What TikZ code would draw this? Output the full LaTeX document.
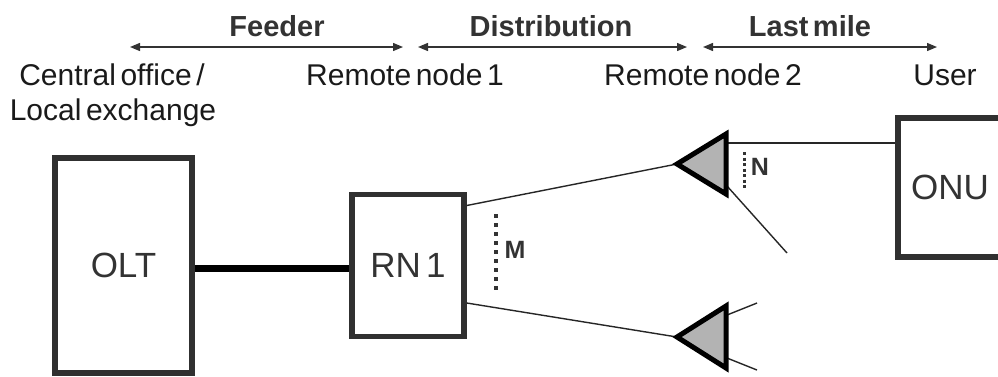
\documentclass[tikz,border=0pt]{standalone}
\usepackage{fontspec}
\setmainfont{Liberation Sans}[WordSpace=0.55]
\usetikzlibrary{arrows.meta}
\definecolor{boxgray}{HTML}{303030}
\definecolor{trifill}{HTML}{B3B3B3}
\definecolor{txt}{HTML}{1A1A1A}
\definecolor{headtxt}{HTML}{333333}
\begin{document}
\begin{tikzpicture}[x=1pt,y=-1pt,
  box/.style={draw=boxgray, line width=5.5pt, fill=white, inner sep=0pt,
    font=\fontsize{35}{40}\selectfont, text=headtxt},
  tri/.style={draw=black, line width=5pt, fill=trifill, line join=miter},
  thinline/.style={line width=1.4pt, draw=black!85},
  span/.style={line width=1.3pt, draw=black!80,
    {Triangle[length=10pt,width=8pt]}-{Triangle[length=10pt,width=8pt]}},
  lbl/.style={font=\fontsize{30}{34}\selectfont, text=txt, inner sep=0pt, anchor=base},
  head/.style={font=\fontsize{29}{32}\selectfont\bfseries, text=headtxt, inner sep=0pt, anchor=base},
  ratiolbl/.style={font=\fontsize{25}{27}\selectfont\bfseries, text=headtxt, inner sep=0pt},
  dotsM/.style={line width=4pt, draw=black!80, dash pattern=on 4pt off 5pt},
  dotsN/.style={line width=3pt, draw=black!80, dash pattern=on 3pt off 2.5pt}]
\clip (0,0) rectangle (998,376);
\fill[white] (0,0) rectangle (998,376);

% span arrows
\coordinate (fa) at (130,47); \coordinate (fb) at (403,47);
\coordinate (da) at (418,47); \coordinate (db) at (687,47);
\coordinate (la) at (703,47); \coordinate (lb) at (937,47);
\draw[span] (fa) -- (fb);
\draw[span] (da) -- (db);
\draw[span] (la) -- (lb);
\node[head] (hfeed) at (277,36) {Feeder};
\node[head] (hdist) at (551,36) {Distribution};
\node[head] (hlast) at (810,36) {Last mile};

% location labels
\node[lbl] (co) at (112,85) {Central office /};
\node[lbl] (le) at (113,120) {Local exchange};
\node[lbl] (rn1l) at (405,85) {Remote node 1};
\node[lbl] (rn2l) at (703,85) {Remote node 2};
\node[lbl] (usr) at (945,85) {User};

% boxes
\node[box, minimum width=137pt, minimum height=215pt] (olt) at (123.5,265.5) {OLT};
\node[box, minimum width=112pt, minimum height=142pt] (rn1) at (408,265.5) {RN 1};
\node[box, minimum width=104pt, minimum height=139pt] (onu) at (950,187.5) {ONU};

% feeder fibre
\draw[line width=7pt, draw=black] ([yshift=-2.5pt]olt.east) -- ([yshift=-2.5pt]olt.east -| rn1.west);

% triangle corner coordinates
\coordinate (t1tip) at (677,164); \coordinate (t1top) at (726,134); \coordinate (t1bot) at (726,194);
\coordinate (t2tip) at (677,337); \coordinate (t2top) at (726,306); \coordinate (t2bot) at (726,368);

% distribution fibres
\draw[thinline] ([yshift=60pt]rn1.east) -- (t1tip);
\draw[thinline] ([yshift=-37.5pt]rn1.east) -- (t2tip);

% drop fibres
\coordinate (o1) at (727,143);
\coordinate (o2) at (727,186); \coordinate (o2e) at (787,253);
\coordinate (o3) at (727,315); \coordinate (o3e) at (757,303);
\coordinate (o4) at (727,358); \coordinate (o4e) at (757,370);
\draw[thinline] (o1) -- (o1 -| onu.west);
\draw[thinline] (o2) -- (o2e);
\draw[thinline] (o3) -- (o3e);
\draw[thinline] (o4) -- (o4e);

% splitters
\draw[tri] (t1tip) -- (t1top) -- (t1bot) -- cycle;
\draw[tri] (t2tip) -- (t2top) -- (t2bot) -- cycle;

% split ratios
\coordinate (ma) at (496,214); \coordinate (mb) at (496,292);
\draw[dotsM] (ma) -- (mb);
\node[ratiolbl] (mlab) at (515,250) {M};
\coordinate (na) at (744,152); \coordinate (nb) at (744,190);
\draw[dotsN] (na) -- (nb);
\node[ratiolbl] (nlab) at (760,167) {N};
\end{tikzpicture}
\end{document}
